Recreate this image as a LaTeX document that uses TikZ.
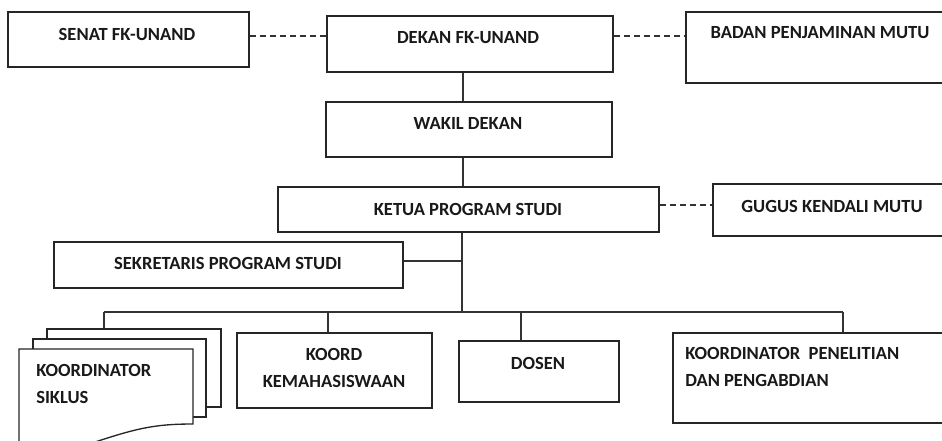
\documentclass[tikz,border=0pt]{standalone}
\usepackage{fontspec}
\setmainfont{Carlito}
\usetikzlibrary{fit}
\begin{document}
\begin{tikzpicture}[x=0.75pt,y=-0.75pt,
  box/.style={draw=black!85, line width=1pt, fill=white, inner sep=0pt},
  txt/.style={font=\bfseries\fontsize{13.9}{20.25}\selectfont, inner sep=0pt, text=black!90},
  link/.style={line width=1pt, draw=black!80},
  dlink/.style={link, dash pattern=on 4.5pt off 3pt}]
\useasboundingbox (0,0) rectangle (942,440);
\clip (0,0) rectangle (942,440);
\fill[white] (0,0) rectangle (942,440);

% boxes
\node[box, fit={(8,12) (249,67)}] (senat) {};
\node[box, fit={(327,16) (613,72)}] (dekan) {};
\node[box, fit={(686,12) (960,83)}] (badan) {};
\node[box, fit={(326,102) (612,157)}] (wakil) {};
\node[box, fit={(278,187) (659,232)}] (ketua) {};
\node[box, fit={(713,184) (960,236)}] (gugus) {};
\node[box, fit={(54,242) (403,288)}] (sekr) {};
\node[box, fit={(237,333) (432,408)}] (kemah) {};
\node[box, fit={(459,341) (619,402)}] (dosen) {};
\node[box, fit={(673,333) (960,423)}] (penel) {};

% stacked documents (koordinator siklus)
\node[box, fit={(47,329) (221,407)}] (sikB) {};
\node[box, fit={(33,339) (206,417)}] (sikM) {};
\draw[box] (19,349) -- (193,349) -- (193,424)
  .. controls (140,424) and (125,432) .. (19,468) -- cycle;

% texts
\node[txt] (senatT) at (127,34) {SENAT FK-UNAND};
\node[txt] (dekanT) at (468,38) {DEKAN FK-UNAND};
\node[txt] (badanT) at (820,33) {BADAN PENJAMINAN MUTU};
\node[txt] (wakilT) at (468,123) {WAKIL DEKAN};
\node[txt] (ketuaT) at (468,209) {KETUA PROGRAM STUDI};
\node[txt] (gugusT) at (832,206) {GUGUS KENDALI MUTU};
\node[txt] (sekrT) at (228,263) {SEKRETARIS PROGRAM STUDI};
\node[txt, align=center] (kemahT) at (334,368) {KOORD\\KEMAHASISWAAN};
\node[txt] (dosenT) at (538,363) {DOSEN};
\node[txt, align=left, anchor=west] (penelT) at (685,367) {KOORDINATOR\ \ PENELITIAN\\DAN PENGABDIAN};
\node[txt, align=left, anchor=west] (sikT) at (36,384) {KOORDINATOR\\SIKLUS};

% helper coordinates
\coordinate (ytop) at (0,36);
\coordinate (ygug) at (0,205);
\coordinate (ysek) at (0,261);
\coordinate (xmain) at (463,0);
\coordinate (xk) at (462,0);
\coordinate (bus) at (0,312);
\coordinate (xd) at (521,0);
\coordinate (xkm) at (328,0);
\coordinate (busL) at (104,312);
\coordinate (busR) at (843,312);

% connectors
\draw[dlink] (senat.east |- ytop) -- (dekan.west |- ytop);
\draw[dlink] (dekan.east |- ytop) -- (badan.west |- ytop);
\draw[link] (dekan.south -| xmain) -- (wakil.north -| xmain);
\draw[link] (wakil.south -| xmain) -- (ketua.north -| xmain);
\draw[dlink] (ketua.east |- ygug) -- (gugus.west |- ygug);
\draw[link] (ketua.south -| xk) -- (xk |- bus);
\draw[link] (sekr.east |- ysek) -- (xk |- ysek);
\draw[link] (busL) -- (busR);
\draw[link] (busL) -- (busL |- sikB.north);
\draw[link] (xkm |- bus) -- (kemah.north -| xkm);
\draw[link] (xd |- bus) -- (dosen.north -| xd);
\draw[link] (busR) -- (busR |- penel.north);
\end{tikzpicture}
\end{document}
